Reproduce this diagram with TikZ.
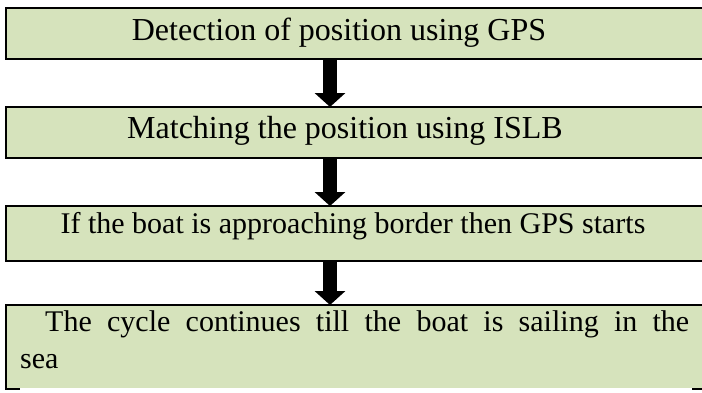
\documentclass[tikz,border=0pt]{standalone}
\usepackage{fontspec}
\setmainfont{Liberation Serif}
\usetikzlibrary{arrows.meta}
\definecolor{boxgreen}{HTML}{D6E3BC}
\begin{document}
\begin{tikzpicture}[x=1pt,y=-1pt,
  box/.style={draw=black, line width=2pt, fill=boxgreen, rectangle, inner sep=0pt, outer sep=0pt, anchor=north west, minimum width=706pt},
  lbl/.style={inner sep=0pt, font=\fontsize{30}{37}\selectfont},
  biglbl/.style={inner sep=0pt, font=\fontsize{32}{38}\selectfont},
  flow/.style={line width=14pt, -{Triangle[width=30pt,length=14pt]}}]
\useasboundingbox (0,0) rectangle (702,392);
\clip (0,0) rectangle (702,392);
\fill[white] (0,0) rectangle (702,392);
\coordinate (ax) at (330,0);
\node[box, minimum height=51pt] (b1) at (6,8) {};
\node[box, minimum height=51pt] (b2) at (6,107) {};
\node[box, minimum height=55pt] (b3) at (6,206) {};
\node[box, minimum height=84pt] (b4) at (6,305) {};
\fill[white] (20,388) rectangle (692,393);
\node[biglbl] (t1) at (339,33) {Detection of position using GPS};
\node[biglbl] (t2) at (345,131) {Matching the position using ISLB};
\node[lbl] (t3) at (353,226) {If the boat is approaching border then GPS starts};
\node[lbl, anchor=north west, text width=669pt, align=justify] (t4) at (20,310)
  {\hspace*{25pt}The cycle continues till the boat is sailing in the\linebreak sea};
\draw[flow] (b1.south -| ax) -- (b2.north -| ax);
\draw[flow] (b2.south -| ax) -- (b3.north -| ax);
\draw[flow] (b3.south -| ax) -- (b4.north -| ax);
\end{tikzpicture}
\end{document}
